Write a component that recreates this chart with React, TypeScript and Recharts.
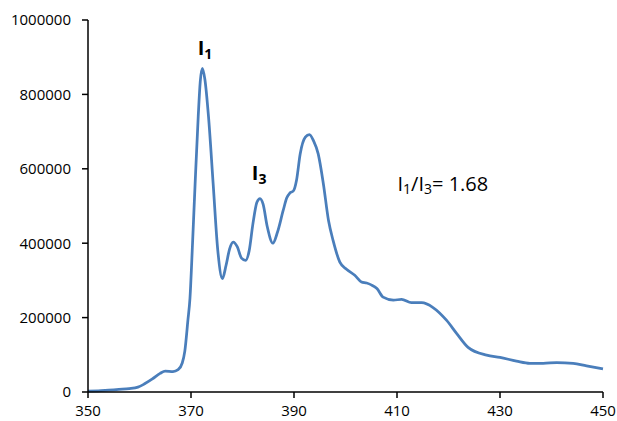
import React from "react";
import { LineChart, Line, XAxis, YAxis, ReferenceDot } from "recharts";

const wavelengths = [
  350, 352, 354, 356, 358, 359.7, 361, 362.5, 364, 365, 366.5, 367.5, 368.3, 368.8, 369.4, 369.8,
  370.3, 370.8, 371.4, 371.8, 372.2, 372.7, 373.4, 374.3, 375.2, 376.1, 376.8, 377.5, 378.2, 379,
  379.8, 380.6, 381.3, 382, 382.8, 383.4, 384, 384.8, 385.9, 386.8, 387.9, 388.6, 389.2, 389.9,
  390.5, 391.2, 392.2, 393, 393.8, 394.7, 395.7, 396.7, 397.6, 398.9, 400.2, 401.8, 403.1, 404.1,
  405, 406.1, 407.3, 409.3, 410.9, 412.8, 414.8, 417, 419.6, 421.6, 423.8, 427.4, 430, 433.2,
  435.8, 438.4, 441, 444.2, 446.8, 450,
];

const intensities = [
  2500, 3000, 5000, 7000, 9000, 13000, 22000, 35000, 50000, 56000, 55000, 60000, 78000, 110000, 193000, 252000,
  400000, 560000, 740000, 835000, 870000, 840000, 740000, 560000, 381000, 305000, 340000, 385000, 403000, 390000,
  360000, 354000, 380000, 450000, 510000, 520000, 505000, 445000, 400000, 430000, 488000, 522000, 535000, 541000,
  570000, 640000, 685000, 692000, 675000, 640000, 560000, 461000, 407000, 349000, 330000, 314000, 296000, 293000,
  288000, 278000, 255000, 247000, 249000, 240000, 240000, 227000, 193000, 157000, 120000, 99000, 93000, 83000,
  77000, 77000, 79000, 77000, 70000, 62000,
];

const xTicks = [350, 370, 390, 410, 430, 450];
const yTicks = [0, 200000, 400000, 600000, 800000, 1000000];

const data = wavelengths.map((w, i) => ({ w, v: intensities[i] }));

const FONT = "'Open Sans', 'Liberation Sans', sans-serif";

const makeLabel = (kind: "I1" | "I3" | "ratio") => (props: any) => {
  const vb = props.viewBox || {};
  const x = (vb.x ?? 0) + (vb.width ?? 0) / 2;
  const y = (vb.y ?? 0) + (vb.height ?? 0) / 2;
  if (kind === "ratio") {
    return (
      <text x={x} y={y} fontFamily={FONT} fontSize={20} fill="#000">
        <tspan>I</tspan>
        <tspan fontSize={14} dy={3}>1</tspan>
        <tspan dy={-3}>/I</tspan>
        <tspan fontSize={14} dy={3}>3</tspan>
        <tspan dy={-3}>= 1.68</tspan>
      </text>
    );
  }
  return (
    <text x={x} y={y} fontFamily={FONT} fontSize={20} fontWeight="bold" fill="#000">
      <tspan>I</tspan>
      <tspan fontSize={14} dy={4}>{kind === "I1" ? "1" : "3"}</tspan>
    </text>
  );
};

const annotations = [
  { kind: "I1" as const, x: 371.3, y: 906000 },
  { kind: "I3" as const, x: 381.8, y: 570000 },
  { kind: "ratio" as const, x: 410.1, y: 540000 },
];

export default function App() {
  return (
    <div style={{ width: 617, height: 421 }}>
      <style>{"html{overflow:hidden;} body{margin:0;}"}</style>
      <LineChart
        width={617}
        height={421}
        data={data}
        margin={{ top: 20, right: 14, left: 8, bottom: 4 }}
      >
        <XAxis
          dataKey="w"
          type="number"
          domain={[350, 450]}
          ticks={xTicks}
          height={25}
          tickSize={6}
          tickMargin={7}
          axisLine={{ stroke: "#000", strokeWidth: 1.5 }}
          tickLine={{ stroke: "#000", strokeWidth: 1.5 }}
          tick={{ fill: "#000", fontSize: 15, fontFamily: FONT }}
          interval={0}
        />
        <YAxis
          type="number"
          domain={[0, 1000000]}
          ticks={yTicks}
          width={80}
          tickSize={6}
          tickMargin={11}
          axisLine={{ stroke: "#000", strokeWidth: 1.5 }}
          tickLine={{ stroke: "#000", strokeWidth: 1.5 }}
          tick={{ fill: "#000", fontSize: 15, fontFamily: FONT }}
          interval={0}
        />
        <Line
          type="monotone"
          dataKey="v"
          stroke="#4a7ebb"
          strokeWidth={2.75}
          dot={false}
          activeDot={false}
          isAnimationActive={false}
        />
        {annotations.map((a) => (
          <ReferenceDot
            key={a.kind}
            x={a.x}
            y={a.y}
            r={1}
            fill="none"
            stroke="none"
            label={makeLabel(a.kind)}
          />
        ))}
      </LineChart>
    </div>
  );
}
